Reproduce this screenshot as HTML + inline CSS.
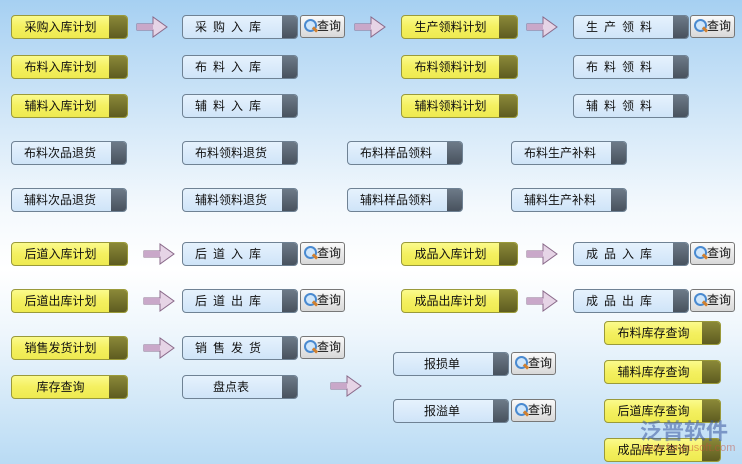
<!DOCTYPE html>
<html><head><meta charset="utf-8"><style>
*{margin:0;padding:0;box-sizing:border-box}
body{width:742px;height:464px;overflow:hidden;position:relative;font-family:"Liberation Sans","Noto Sans CJK SC",sans-serif;font-size:12px;
background:linear-gradient(180deg,#a6d0f2 0%,#d2e7f8 25%,#f4f9fd 45%,#ffffff 58%,#eef6fc 72%,#b9dbf4 100%)}
.b{position:absolute;height:24px;border-radius:4px;overflow:hidden;color:#111;line-height:22px;text-align:center}
.y{width:117px;background:linear-gradient(#fbfb8c,#f4f060 50%,#eeea50);border:1px solid #9a9a3a;padding-right:18px}
.y::after{content:"";position:absolute;right:0;top:0;width:18px;height:100%;background:linear-gradient(#8a8838,#5e5c20);}
.u{width:116px;background:linear-gradient(#e6f2fd,#cfe4f8);border:1px solid #6f8294;padding-right:18px;letter-spacing:0}
.u::after{content:"";position:absolute;right:0;top:0;width:15px;height:100%;background:linear-gradient(#6d7a88,#48525e);}
.sp{letter-spacing:6px}
.q{position:absolute;width:45px;height:23px;border:1px solid #777;border-radius:3px;background:linear-gradient(#fafafa,#d8d8d8);font-size:12px;line-height:21px;padding-left:16px;color:#111}
.q::before{content:"";position:absolute;left:3px;top:3px;width:9px;height:9px;border-radius:50%;border:2px solid #4a8ad0;background:#cfe6fb}
.q::after{content:"";position:absolute;left:11px;top:12px;width:6px;height:3px;background:#d08030;transform:rotate(45deg)}
.a{position:absolute;width:32px;height:22px}
</style></head><body>
<svg width="0" height="0" style="position:absolute"><defs><symbol id="ar" viewBox="0 0 32 22"><path d="M1 8 H17 V1 L31 11 L17 21 V14 H1 Z" fill="#e6d4e6" stroke="#8a6a8a" stroke-width="1"/><rect x="1" y="8" width="16" height="6" fill="#c9a8c9"/></symbol></defs></svg>

<div class="b y" style="left:11px;top:15px">采购入库计划</div>
<svg class="a" style="left:136px;top:16px"><use href="#ar"/></svg>
<div class="b u sp" style="left:182px;top:15px">采购入库</div>
<div class="q" style="left:300px;top:15px">查询</div>
<svg class="a" style="left:354px;top:16px"><use href="#ar"/></svg>
<div class="b y" style="left:401px;top:15px">生产领料计划</div>
<svg class="a" style="left:526px;top:16px"><use href="#ar"/></svg>
<div class="b u sp" style="left:573px;top:15px">生产领料</div>
<div class="q" style="left:690px;top:15px">查询</div>

<div class="b y" style="left:11px;top:55px">布料入库计划</div>
<div class="b u sp" style="left:182px;top:55px">布料入库</div>
<div class="b y" style="left:401px;top:55px">布料领料计划</div>
<div class="b u sp" style="left:573px;top:55px">布料领料</div>

<div class="b y" style="left:11px;top:94px">辅料入库计划</div>
<div class="b u sp" style="left:182px;top:94px">辅料入库</div>
<div class="b y" style="left:401px;top:94px">辅料领料计划</div>
<div class="b u sp" style="left:573px;top:94px">辅料领料</div>

<div class="b u" style="left:11px;top:141px">布料次品退货</div>
<div class="b u" style="left:182px;top:141px">布料领料退货</div>
<div class="b u" style="left:347px;top:141px">布料样品领料</div>
<div class="b u" style="left:511px;top:141px">布料生产补料</div>

<div class="b u" style="left:11px;top:188px">辅料次品退货</div>
<div class="b u" style="left:182px;top:188px">辅料领料退货</div>
<div class="b u" style="left:347px;top:188px">辅料样品领料</div>
<div class="b u" style="left:511px;top:188px">辅料生产补料</div>

<div class="b y" style="left:11px;top:242px">后道入库计划</div>
<svg class="a" style="left:143px;top:243px"><use href="#ar"/></svg>
<div class="b u sp" style="left:182px;top:242px">后道入库</div>
<div class="q" style="left:300px;top:242px">查询</div>
<div class="b y" style="left:401px;top:242px">成品入库计划</div>
<svg class="a" style="left:526px;top:243px"><use href="#ar"/></svg>
<div class="b u sp" style="left:573px;top:242px">成品入库</div>
<div class="q" style="left:690px;top:242px">查询</div>

<div class="b y" style="left:11px;top:289px">后道出库计划</div>
<svg class="a" style="left:143px;top:290px"><use href="#ar"/></svg>
<div class="b u sp" style="left:182px;top:289px">后道出库</div>
<div class="q" style="left:300px;top:289px">查询</div>
<div class="b y" style="left:401px;top:289px">成品出库计划</div>
<svg class="a" style="left:526px;top:290px"><use href="#ar"/></svg>
<div class="b u sp" style="left:573px;top:289px">成品出库</div>
<div class="q" style="left:690px;top:289px">查询</div>

<div class="b y" style="left:11px;top:336px">销售发货计划</div>
<svg class="a" style="left:143px;top:337px"><use href="#ar"/></svg>
<div class="b u sp" style="left:182px;top:336px">销售发货</div>
<div class="q" style="left:300px;top:336px">查询</div>

<div class="b y" style="left:604px;top:321px">布料库存查询</div>
<div class="b y" style="left:604px;top:360px">辅料库存查询</div>
<div class="b y" style="left:604px;top:399px">后道库存查询</div>
<div class="b y" style="left:604px;top:438px">成品库存查询</div>

<div class="b u" style="left:393px;top:352px">报损单</div>
<div class="q" style="left:511px;top:352px">查询</div>
<div class="b u" style="left:393px;top:399px">报溢单</div>
<div class="q" style="left:511px;top:399px">查询</div>

<div class="b y" style="left:11px;top:375px">库存查询</div>
<div class="b u" style="left:182px;top:375px">盘点表</div>
<svg class="a" style="left:330px;top:375px"><use href="#ar"/></svg>

<div style="position:absolute;left:640px;top:414px;font-size:22px;font-weight:bold;color:rgba(60,90,160,0.55)">泛普软件</div>
<div style="position:absolute;left:640px;top:442px;font-size:11px;color:rgba(200,80,60,0.5)">www.fanpusoft.com</div>
</body></html>
